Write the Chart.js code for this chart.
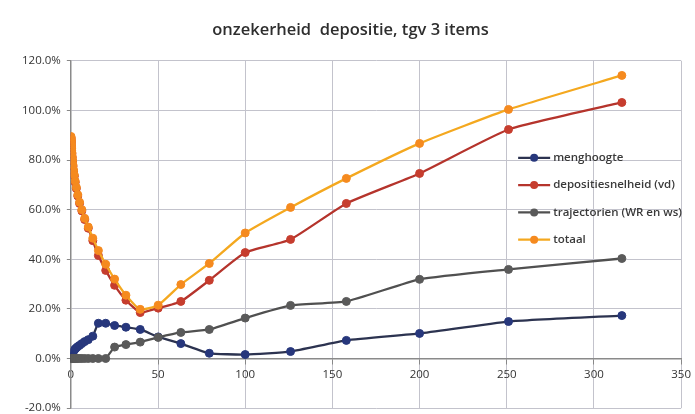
<!DOCTYPE html>
<html>
<head>
<meta charset="utf-8">
<script src="https://cdn.jsdelivr.net/npm/chart.js@4/dist/chart.umd.min.js"></script>
<style>
    body { margin: 0; background: #ffffff; }
    #wrap { width: 695px; height: 414px; overflow: hidden; }
    canvas { display: block; }
</style>
</head>
<body>
<div id="wrap"><canvas id="chart" width="695" height="421"></canvas></div>
<script>
// afstand (x), logaritmisch verdeeld
const afstand = [0.1, 0.126, 0.158, 0.2, 0.251, 0.316, 0.398, 0.501, 0.631, 0.794,
    1, 1.26, 1.58, 2, 2.51, 3.16, 3.98, 5.01, 6.31, 7.94,
    10, 12.6, 15.8, 20, 25.1, 31.6, 39.8, 50.1, 63.1, 79.4,
    100, 126, 158, 200, 251, 316];

const menghoogte = [0.3, 0.4, 0.5, 0.6, 0.7, 0.9, 1.1, 1.3, 1.6, 1.9,
    2.2, 2.6, 3, 3.4, 3.8, 4.3, 4.8, 5.3, 6, 6.8,
    7.6, 9, 14.2, 14.2, 13.3, 12.6, 11.7, 8.7, 6, 2.1,
    1.6, 2.8, 7.3, 10.1, 14.9, 17.3];

const depositiesnelheid = [89, 88.5, 88, 87.5, 87, 86, 85, 84, 82.5, 81,
    79.5, 77.5, 75.5, 73.5, 71, 68.5, 65.5, 62.5, 59.5, 56,
    52.5, 47.5, 41.5, 35.5, 29.5, 23.5, 18.5, 20.3, 23, 31.5,
    42.7, 48, 62.5, 74.6, 92.3, 103.2];

const trajectorien = [0, 0, 0, 0, 0, 0, 0, 0, 0, 0,
    0, 0, 0, 0, 0, 0, 0, 0, 0, 0,
    0, 0, 0, 0, 4.6, 5.6, 6.6, 8.5, 10.5, 11.7,
    16.3, 21.4, 23, 31.9, 35.9, 40.3];

const totaal = [89.5, 89, 88.5, 88, 87.5, 86.5, 85.5, 84.5, 83, 81.5,
    80, 78, 76, 74, 71.5, 69, 66, 63, 60, 56.5,
    53, 48.5, 43.5, 38, 32, 25.5, 19.8, 21.5, 29.8, 38.3,
    50.6, 60.9, 72.6, 86.7, 100.4, 114.1];

const seriesNames = ['menghoogte', 'depositiesnelheid (vd)', 'trajectorien (WR en ws)', 'totaal'];
const xTicks = [0, 50, 100, 150, 200, 250, 300, 350];
const yTicks = [-20, 0, 20, 40, 60, 80, 100, 120];

const lineColors = ['#2c3350', '#b5342c', '#505050', '#f4a81f'];
const markerColors = ['#27377c', '#c63d2e', '#5a5a5a', '#f58a1f'];

function toPoints(values) {
    return afstand.map((x, i) => ({ x: x, y: values[i] }));
}

const allSeries = [menghoogte, depositiesnelheid, trajectorien, totaal];

const datasets = allSeries.map((values, i) => ({
    label: seriesNames[i],
    data: toPoints(values),
    borderColor: lineColors[i],
    backgroundColor: markerColors[i],
    pointBackgroundColor: markerColors[i],
    pointBorderColor: markerColors[i],
    pointRadius: 4,
    pointBorderWidth: 1,
    borderWidth: 2.3,
    tension: 0.15,
    order: 4 - i   // eerste serie onderop, totaal bovenop
}));

// legenda binnen het plotgebied tekenen
const innerLegend = {
    id: 'innerLegend',
    afterDraw(chart) {
        const ctx = chart.ctx;
        const area = chart.chartArea;
        const x0 = area.right - 163;
        let y = area.top + 97;
        ctx.save();
        ctx.font = '600 11.5px "Open Sans"';
        ctx.textBaseline = 'middle';
        chart.data.datasets.forEach(ds => {
            ctx.strokeStyle = ds.borderColor;
            ctx.lineWidth = 2.3;
            ctx.beginPath();
            ctx.moveTo(x0, y);
            ctx.lineTo(x0 + 32, y);
            ctx.stroke();
            ctx.fillStyle = ds.pointBackgroundColor;
            ctx.beginPath();
            ctx.arc(x0 + 16, y, 4, 0, Math.PI * 2);
            ctx.fill();
            ctx.fillStyle = '#3a3a3a';
            ctx.fillText(ds.label, x0 + 35, y);
            y += 27.3;
        });
        ctx.restore();
    }
};

const ctx = document.getElementById('chart').getContext('2d');

new Chart(ctx, {
    type: 'line',
    data: { datasets: datasets },
    options: {
        responsive: false,
        animation: false,
        layout: { padding: { left: 16, right: 10, top: 5, bottom: 0 } },
        plugins: {
            legend: { display: false },
            tooltip: { enabled: false },
            title: {
                display: true,
                text: 'onzekerheid  depositie, tgv 3 items',
                color: '#2e2e2e',
                font: { family: '"Open Sans"', size: 16.5, weight: '600' },
                padding: { top: 15, bottom: 21 }
            }
        },
        scales: {
            x: {
                type: 'linear',
                position: { y: 0 },
                min: 0,
                max: 350,
                afterBuildTicks(scale) {
                    scale.ticks = xTicks.map(v => ({ value: v }));
                },
                ticks: {
                    color: '#333',
                    font: { family: '"Open Sans"', size: 11.5 },
                    padding: 4,
                    maxRotation: 0
                },
                grid: { color: '#c3c3cc', tickLength: 5, tickColor: '#888' },
                border: { color: '#8a8a8a', width: 1.5 }
            },
            y: {
                min: -20,
                max: 120,
                afterBuildTicks(scale) {
                    scale.ticks = yTicks.map(v => ({ value: v }));
                },
                ticks: {
                    color: '#333',
                    font: { family: '"Open Sans"', size: 11.5 },
                    padding: 6,
                    callback: v => v.toFixed(1) + '%'
                },
                grid: { color: '#c3c3cc', tickLength: 4, tickColor: '#888' },
                border: { color: '#8a8a8a', width: 1.5 }
            }
        }
    },
    plugins: [innerLegend]
});
</script>
</body>
</html>
